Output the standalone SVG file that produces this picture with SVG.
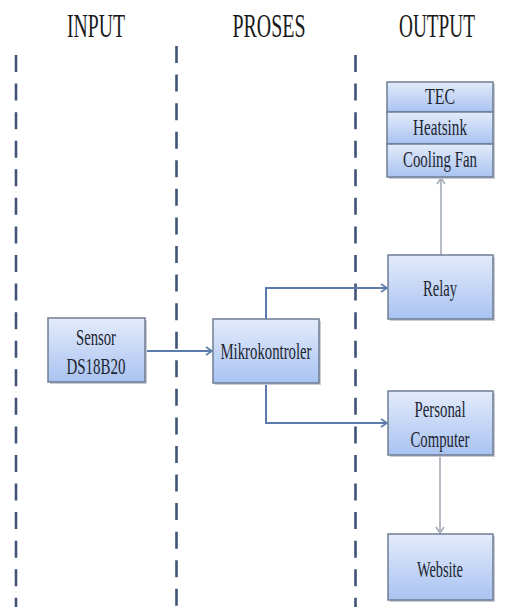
<svg xmlns="http://www.w3.org/2000/svg" width="518" height="607" viewBox="0 0 518 607">
<style>
.title{font-family:"Liberation Serif",serif;font-size:33px;fill:#1a1a1a;text-anchor:middle}
.lbl{font-family:"Liberation Serif",serif;font-size:24px;fill:#1e2530;text-anchor:middle}
.box{fill:url(#g);stroke:#6f7d94;stroke-width:1.5}
.sh{fill:#c9ccd2}
.div{fill:none;stroke:#3f5477;stroke-width:2.6;stroke-dasharray:17 11.57}
.c{fill:none;stroke:#5b7cab;stroke-width:2}
.cg{fill:none;stroke:#a4abb6;stroke-width:1.6}
</style>
<defs>
<linearGradient id="g" x1="0" y1="0" x2="0" y2="1">
<stop offset="0" stop-color="#e3ebfb"/>
<stop offset="1" stop-color="#a9c3f1"/>
</linearGradient>
<marker id="ab" markerWidth="10" markerHeight="10" refX="7" refY="5" orient="auto" markerUnits="userSpaceOnUse">
<path d="M1,1 L7,5 L1,9" fill="none" stroke="#5b7cab" stroke-width="1.6"/>
</marker>
<marker id="ag" markerWidth="10" markerHeight="10" refX="7" refY="5" orient="auto" markerUnits="userSpaceOnUse">
<path d="M1,1 L7,5 L1,9" fill="none" stroke="#a4abb6" stroke-width="1.5"/>
</marker>
</defs>
<rect width="518" height="607" fill="#ffffff"/>
<g id="titles">
<text class="title" x="96" y="37" textLength="58" lengthAdjust="spacingAndGlyphs">INPUT</text>
<text class="title" x="269" y="37" textLength="73" lengthAdjust="spacingAndGlyphs">PROSES</text>
<text class="title" x="437" y="37" textLength="76" lengthAdjust="spacingAndGlyphs">OUTPUT</text>
</g>
<g id="dividers">
<line class="div" x1="16" y1="55" x2="16" y2="607"/>
<line class="div" x1="176.5" y1="46" x2="176.5" y2="607"/>
<line class="div" x1="355.5" y1="55" x2="355.5" y2="607"/>
</g>
<g id="connectors">
<path class="c" d="M145,351 H212" marker-end="url(#ab)"/>
<path class="c" d="M266,319 V288 H387" marker-end="url(#ab)"/>
<path class="c" d="M266,383 V423 H387" marker-end="url(#ab)"/>
<path class="cg" d="M441,255 V178" marker-end="url(#ag)"/>
<path class="cg" d="M440,455 V533" marker-end="url(#ag)"/>
</g>
<g id="sensor">
<rect class="sh" x="50" y="320" width="97" height="64"/>
<rect class="box" x="48" y="318" width="97" height="64"/>
<text class="lbl" x="96" y="345" textLength="40" lengthAdjust="spacingAndGlyphs">Sensor</text>
<text class="lbl" x="96" y="374" textLength="59" lengthAdjust="spacingAndGlyphs">DS18B20</text>
</g>
<g id="mikrokontroler">
<rect class="sh" x="215" y="321" width="106" height="64"/>
<rect class="box" x="213" y="319" width="106" height="64"/>
<text class="lbl" x="266" y="359" textLength="91" lengthAdjust="spacingAndGlyphs">Mikrokontroler</text>
</g>
<g id="tec-stack">
<rect class="sh" x="389" y="84" width="106" height="95"/>
<rect class="box" x="387" y="82" width="106" height="30"/>
<rect class="box" x="387" y="112" width="106" height="32"/>
<rect class="box" x="387" y="144" width="106" height="33"/>
<text class="lbl" x="440" y="104" textLength="30" lengthAdjust="spacingAndGlyphs">TEC</text>
<text class="lbl" x="440" y="135" textLength="54" lengthAdjust="spacingAndGlyphs">Heatsink</text>
<text class="lbl" x="440" y="167" textLength="74" lengthAdjust="spacingAndGlyphs">Cooling Fan</text>
</g>
<g id="relay">
<rect class="sh" x="390" y="257" width="105" height="64"/>
<rect class="box" x="388" y="255" width="105" height="64"/>
<text class="lbl" x="440" y="296" textLength="34" lengthAdjust="spacingAndGlyphs">Relay</text>
</g>
<g id="personal-computer">
<rect class="sh" x="390" y="393" width="105" height="64"/>
<rect class="box" x="388" y="391" width="105" height="64"/>
<text class="lbl" x="440" y="417" textLength="51" lengthAdjust="spacingAndGlyphs">Personal</text>
<text class="lbl" x="440" y="447" textLength="59" lengthAdjust="spacingAndGlyphs">Computer</text>
</g>
<g id="website">
<rect class="sh" x="390" y="536" width="105" height="66"/>
<rect class="box" x="388" y="534" width="105" height="66"/>
<text class="lbl" x="440" y="577" textLength="46" lengthAdjust="spacingAndGlyphs">Website</text>
</g>
</svg>
